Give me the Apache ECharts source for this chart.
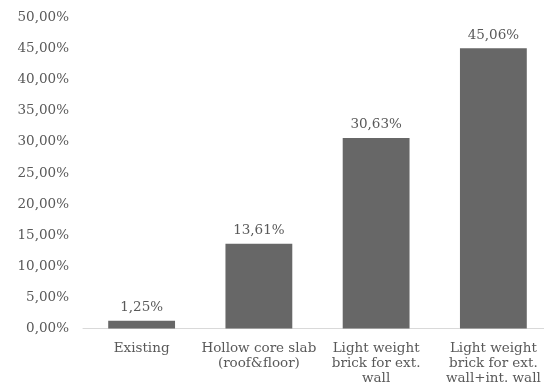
<!DOCTYPE html>
<html>
<head>
<meta charset="utf-8">
<script src="https://cdn.jsdelivr.net/npm/echarts@6/dist/echarts.min.js"></script>
<style>
  html, body { margin: 0; padding: 0; background: #ffffff; overflow: hidden; }
  /* canvas runs a little past the right edge so the last column is cut off by the frame */
  #chart { width: 560px; height: 387px; }
</style>
</head>
<body>
<div id="chart"></div>
<script>
// Share of energy saving per construction option (percent)
const categories = [
  'Existing',
  'Hollow core slab\n(roof&floor)',
  'Light weight\nbrick for ext.\nwall',
  'Light weight\nbrick for ext.\nwall+int. wall'
];
const savings = [1.25, 13.61, 30.63, 45.06];
const yTicks = { min: 0, max: 50, interval: 5 };

const fmtPct = v => v.toFixed(2).replace('.', ',') + '%';
const FONT = 'DejaVu Serif';
const TEXT = '#595959';

const chart = echarts.init(document.getElementById('chart'));
chart.setOption({
  animation: false,
  backgroundColor: '#ffffff',
  grid: { left: 83, width: 469, top: 17.5, bottom: 58.5, containLabel: false },
  xAxis: {
    type: 'category',
    data: categories,
    axisLine: { show: true, lineStyle: { color: '#d9d9d9', width: 1 } },
    axisTick: { show: false },
    axisLabel: {
      color: TEXT, fontFamily: FONT, fontSize: 13.5, lineHeight: 15,
      margin: 12, interval: 0
    },
    splitLine: { show: false }
  },
  yAxis: {
    type: 'value',
    min: yTicks.min, max: yTicks.max, interval: yTicks.interval,
    axisLine: { show: false },
    axisTick: { show: false },
    splitLine: { show: false },
    axisLabel: {
      color: TEXT, fontFamily: FONT, fontSize: 13.5, margin: 14,
      formatter: v => fmtPct(v)
    }
  },
  series: [{
    type: 'bar',
    data: savings,
    barCategoryGap: '43%',
    itemStyle: { color: '#676767' },
    label: {
      show: true, position: 'top', distance: 6,
      color: TEXT, fontFamily: FONT, fontSize: 13.5,
      formatter: p => fmtPct(p.value)
    }
  }]
});
</script>
</body>
</html>
